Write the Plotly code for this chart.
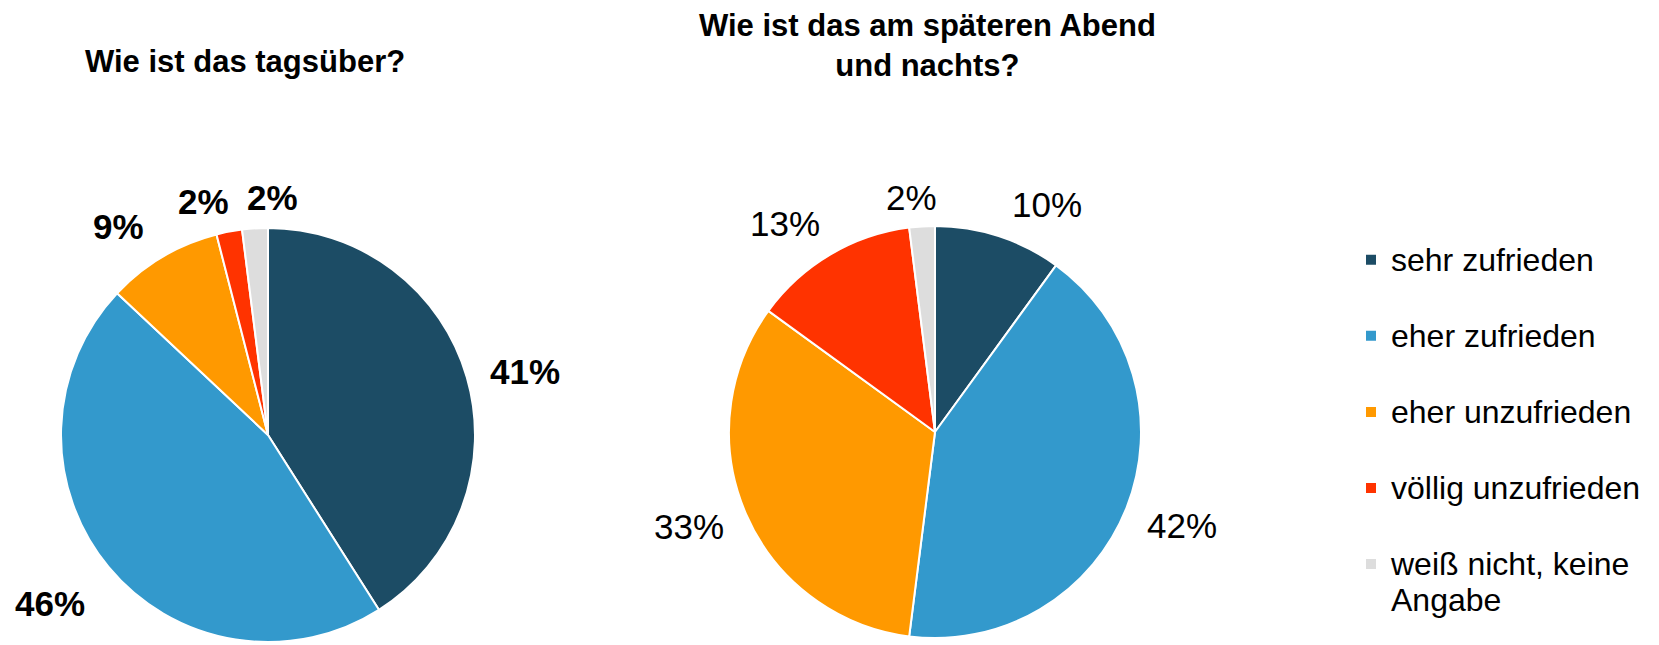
import math
import plotly.graph_objects as go

# ---------------- data ----------------
categories = ["sehr zufrieden", "eher zufrieden", "eher unzufrieden",
              "völlig unzufrieden", "weiß nicht, keine Angabe"]
legend_lines = [["sehr zufrieden"], ["eher zufrieden"], ["eher unzufrieden"],
                ["völlig unzufrieden"], ["weiß nicht, keine", "Angabe"]]
day_values = [41, 46, 9, 2, 2]
night_values = [10, 42, 33, 13, 2]
colors = ["#1C4C65", "#3399CC", "#FF9900", "#FF3300", "#DDDDDD"]
titles = ["Wie ist das tagsüber?", "Wie ist das am späteren Abend<br>und nachts?"]

# ---------------- layout constants ----------------
W, H = 1659, 645
OFF = 8  # page body margin of the html page
FONT = "Liberation Sans, Arial, sans-serif"
pies = [dict(cx=268, cy=435, r=207), dict(cx=935, cy=432, r=206)]
title_pos = [(245, 62), (927, 45)]
# label placement (radial distance factor, angular nudge in degrees)
label_dist = [[1.28, 1.33, 1.24, 1.17, 1.146], [1.233, 1.283, 1.28, 1.245, 1.146]]
label_turn = [[2.4, 1.9, -5.0, -4.6, 4.6], [8.2, -0.8, 2.3, -5.2, -2.0]]
label_bold = [True, False]


def px_x(x):
    return (x - OFF) / W


def px_y(y):
    return 1 - (y - OFF) / H


# legend labels: each entry two lines tall for even spacing
def legend_label(lines):
    parts = ["<span style='font-size:32px'>%s</span>" % ln for ln in lines]
    if len(parts) < 2:
        parts.append(" ")
    return "<br>".join(parts)


labels = [legend_label(l) for l in legend_lines]

fig = go.Figure()
annotations = []
for k, (vals, geo) in enumerate(zip([day_values, night_values], pies)):
    cx, cy, r = geo["cx"], geo["cy"], geo["r"]
    fig.add_trace(go.Pie(
        labels=labels,
        values=vals,
        sort=False,
        direction="clockwise",
        rotation=0,
        marker=dict(colors=colors, line=dict(color="white", width=2)),
        textinfo="none",
        hovertext=categories,
        hoverinfo="text+percent",
        showlegend=(k == 0),
        domain=dict(x=[px_x(cx - r), px_x(cx + r)],
                    y=[px_y(cy + r), px_y(cy - r)]),
    ))
    total = float(sum(vals))
    cum = 0.0
    for i, v in enumerate(vals):
        mid = (cum + v / 2.0) / total * 360.0 + label_turn[k][i]
        cum += v
        d = label_dist[k][i] * r
        lx = cx + d * math.sin(math.radians(mid))
        ly = cy - d * math.cos(math.radians(mid))
        txt = "%d%%" % v
        if label_bold[k]:
            txt = "<b>%s</b>" % txt
        annotations.append(dict(
            x=px_x(lx), y=px_y(ly), xref="paper", yref="paper",
            text=txt, showarrow=False, xanchor="center", yanchor="middle",
            font=dict(family=FONT, size=35, color="black")))

for t, (tx, ty) in zip(titles, title_pos):
    annotations.append(dict(
        x=px_x(tx), y=px_y(ty), xref="paper", yref="paper",
        text="<b>%s</b>" % t.replace("<br>", "</b><br><b>"), showarrow=False,
        xanchor="center", yanchor="middle",
        font=dict(family=FONT, size=31, color="black")))

fig.update_layout(
    width=W, height=H,
    margin=dict(l=0, r=0, t=0, b=0, autoexpand=False),
    paper_bgcolor="white",
    plot_bgcolor="white",
    annotations=annotations,
    showlegend=True,
    legend=dict(
        x=px_x(1351), xanchor="left",
        y=px_y(235), yanchor="top",
        font=dict(family=FONT, size=28.1, color="black"),
        valign="top",
        bgcolor="rgba(0,0,0,0)",
        borderwidth=0,
        traceorder="normal",
    ),
)

fig.write_html("out.html")
